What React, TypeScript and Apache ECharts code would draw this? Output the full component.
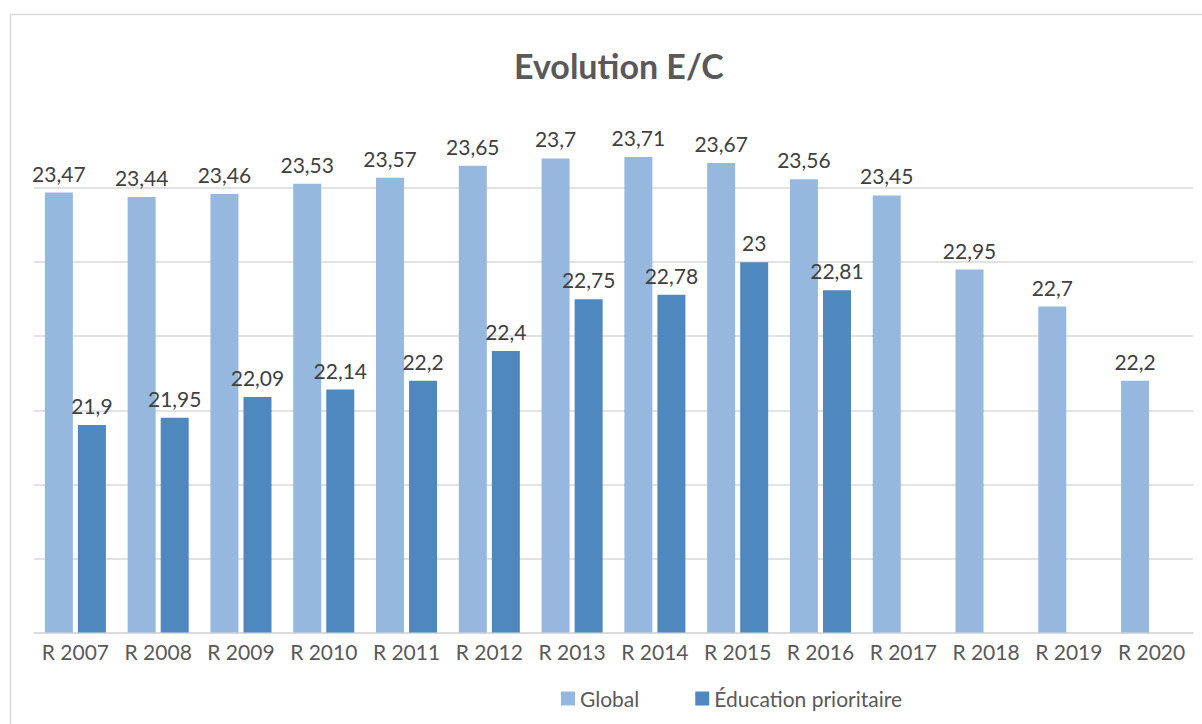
import React, { useEffect, useRef } from "react";
import * as echarts from "echarts";

const categories = ["R 2007", "R 2008", "R 2009", "R 2010", "R 2011", "R 2012", "R 2013", "R 2014", "R 2015", "R 2016", "R 2017", "R 2018", "R 2019", "R 2020"];
const globalValues = [23.47, 23.44, 23.46, 23.53, 23.57, 23.65, 23.7, 23.71, 23.67, 23.56, 23.45, 22.95, 22.7, 22.2];
const eduValues: (number | string)[] = [21.9, 21.95, 22.09, 22.14, 22.2, 22.4, 22.75, 22.78, 23, 22.81, "-", "-", "-", "-"];
const seriesNames = ["Global", "Éducation prioritaire"];
const titleText = "Evolution E/C";

const FONT = "Lato, 'Open Sans', sans-serif";

export default function App() {
  const ref = useRef<HTMLDivElement>(null);
  useEffect(() => {
    if (!ref.current) return;
    const chart = echarts.init(ref.current, undefined, { renderer: "svg" });
    const fmt = (p: any) => String(p.value).replace(".", ",");
    chart.setOption({
      animation: false,
      backgroundColor: "#ffffff",
      textStyle: { fontFamily: FONT },
      title: {
        text: titleText,
        left: 509,
        top: 43,
        textStyle: { fontFamily: FONT, fontSize: 34, fontWeight: "bold", color: "#595959" },
      },
      legend: {
        data: seriesNames,
        left: 556,
        top: 683,
        itemWidth: 14,
        itemHeight: 14,
        itemGap: 56,
        icon: "rect",
        textStyle: { fontFamily: FONT, fontSize: 21, color: "#595959" },
      },
      graphic: [
        {
          type: "rect",
          shape: { x: 10.5, y: 14.5, width: 1300, height: 800 },
          style: { fill: "none", stroke: "#d9d9d9", lineWidth: 1.5 },
          silent: true,
        },
      ],
      grid: { left: 34, right: 9, top: 114, bottom: 91.5, containLabel: false },
      xAxis: {
        type: "category",
        data: categories,
        axisLine: { show: true, lineStyle: { color: "#d9d9d9", width: 1.5 } },
        axisTick: { show: false },
        axisLabel: { fontFamily: FONT, fontSize: 21, color: "#595959", margin: 8, interval: 0 },
      },
      yAxis: {
        type: "value",
        min: 20.5,
        max: 24,
        interval: 0.5,
        axisLabel: { show: false },
        axisLine: { show: false },
        axisTick: { show: false },
        splitLine: { show: true, showMaxLine: false, lineStyle: { color: "#d9d9d9", width: 1.5 } },
      },
      series: [
        {
          name: seriesNames[0],
          type: "bar",
          data: globalValues,
          barWidth: 28,
          barGap: "18%",
          itemStyle: { color: "#96b8df" },
          label: { show: true, position: "top", distance: 9, formatter: fmt, fontFamily: FONT, fontSize: 21, color: "#404040" },
        },
        {
          name: seriesNames[1],
          type: "bar",
          data: eduValues,
          barWidth: 28,
          barGap: "18%",
          itemStyle: { color: "#4f88bf" },
          label: { show: true, position: "top", distance: 9, formatter: fmt, fontFamily: FONT, fontSize: 21, color: "#404040" },
        },
      ],
    });
    return () => chart.dispose();
  }, []);
  return <div ref={ref} style={{ position: "fixed", left: 0, top: 0, width: 1202, height: 724 }} />;
}
